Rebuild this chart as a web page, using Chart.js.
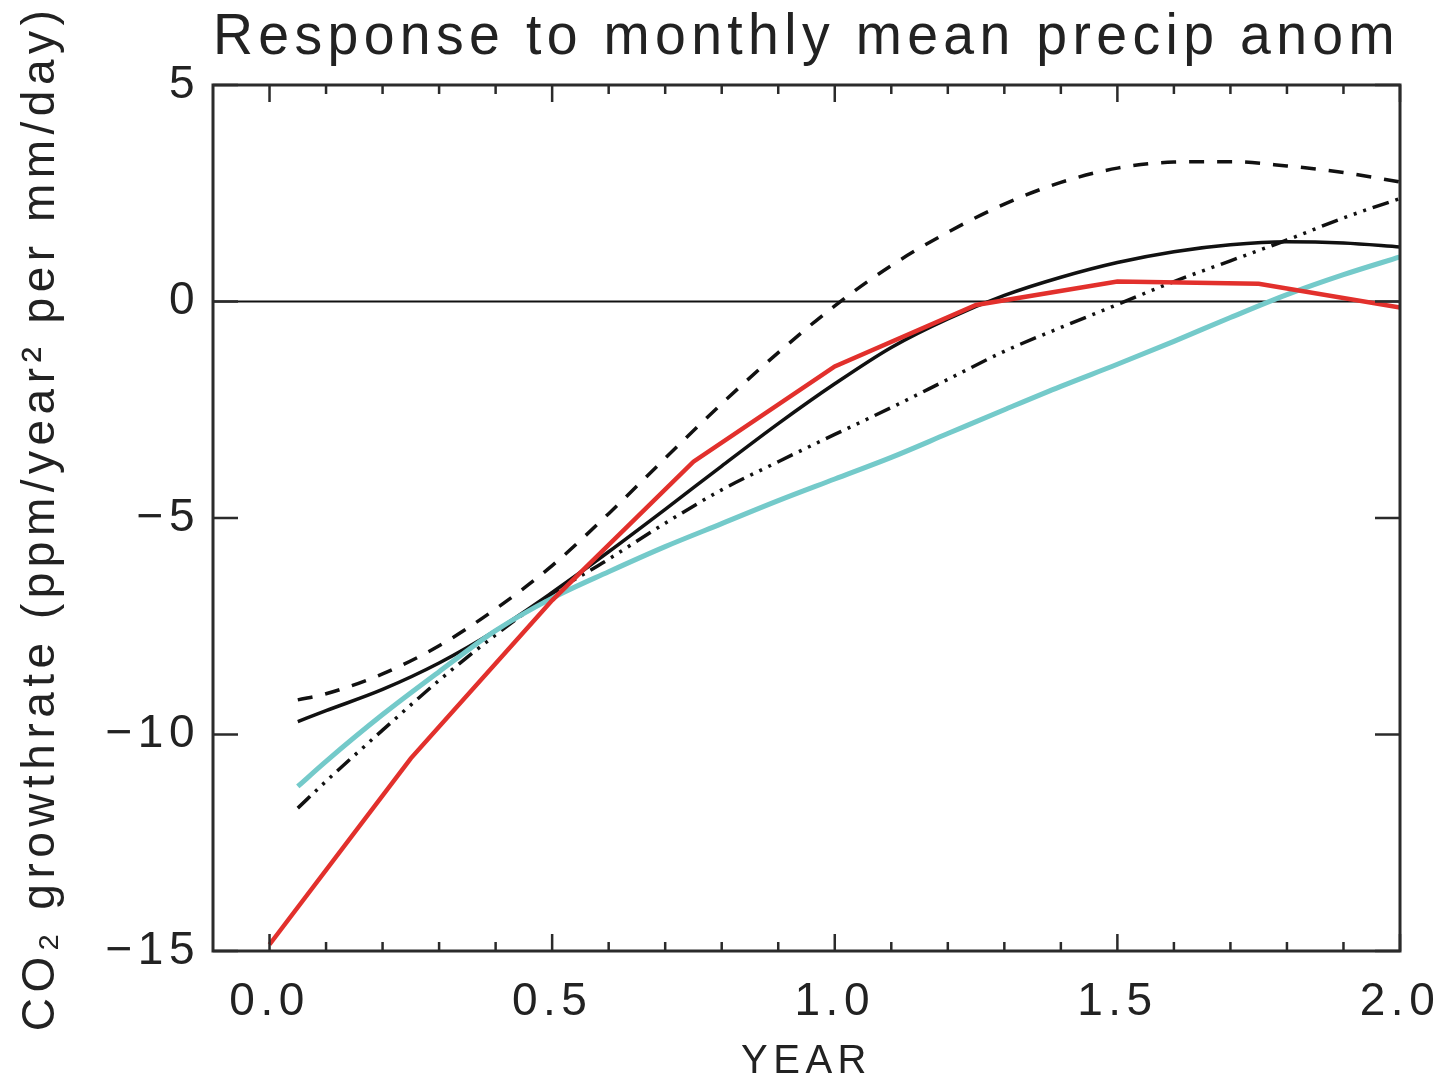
<!DOCTYPE html>
<html lang="en">
<head>
<meta charset="UTF-8">
<title>Response to monthly mean precip anom</title>
<script src="https://cdn.jsdelivr.net/npm/chart.js@4.4.1/dist/chart.umd.min.js"></script>
<style>
  html, body { margin: 0; padding: 0; background: #fff; }
</style>
</head>
<body>
<canvas id="chart" width="1444" height="1088"></canvas>
<script>
// x positions (years) of the smooth curves and of the red quarterly polyline
const years = [0.05, 0.1, 0.2, 0.3, 0.4, 0.5, 0.6, 0.7, 0.8, 0.9, 1.0,
               1.1, 1.2, 1.3, 1.4, 1.5, 1.6, 1.7, 1.8, 1.9, 2.0];
const quarterYears = [0, 0.25, 0.5, 0.75, 1.0, 1.25, 1.5, 1.75, 2.0];

// series values (ppm/year^2 per mm/day)
const solidBlack = [-9.7, -9.45, -8.96, -8.35, -7.6, -6.72, -5.78, -4.8, -3.8, -2.82, -1.9,
                    -1.06, -0.4, 0.14, 0.56, 0.9, 1.15, 1.31, 1.38, 1.35, 1.26];
const dashedBlack = [-9.2, -9.06, -8.6, -7.95, -7.1, -6.1, -4.9, -3.62, -2.36, -1.18, -0.1,
                     0.83, 1.6, 2.25, 2.75, 3.08, 3.22, 3.23, 3.13, 2.98, 2.76];
const dashDotBlack = [-11.7, -11.08, -9.9, -8.75, -7.7, -6.75, -5.95, -5.12, -4.35, -3.7, -3.07,
                      -2.45, -1.8, -1.15, -0.6, -0.07, 0.46, 0.94, 1.42, 1.93, 2.38];
const cyanSeries = [-11.2, -10.62, -9.54, -8.55, -7.6, -6.85, -6.24, -5.66, -5.13, -4.6, -4.1,
                    -3.6, -3.05, -2.5, -1.96, -1.45, -0.92, -0.37, 0.16, 0.62, 1.03];
const redSeries = [-14.85, -10.55, -6.9, -3.7, -1.5, -0.08, 0.46, 0.41, -0.14];

// tick values and labels
const xTickValues = [0, 0.5, 1.0, 1.5, 2.0];
const xTickLabels = ['0.0', '0.5', '1.0', '1.5', '2.0'];
const yTickValues = [-15, -10, -5, 0, 5];
const yTickLabels = ['\u221215', '\u221210', '\u22125', '0', '5'];

const FONT = "'Liberation Sans', Arial, sans-serif";
const INK = '#222';

function pts(xs, ys) {
    return xs.map((x, i) => ({ x: x, y: ys[i] }));
}

// zero line, boxed frame and inward tick marks (IDL style)
const frameTicks = {
    id: 'frameTicks',
    beforeDraw(chart) {
        chart.ctx.letterSpacing = '5.5px';
    },
    beforeDatasetsDraw(chart) {
        const { ctx, chartArea: a, scales: { y } } = chart;
        const y0 = y.getPixelForValue(0);
        ctx.save();
        ctx.strokeStyle = '#111';
        ctx.lineWidth = 2;
        ctx.beginPath();
        ctx.moveTo(a.left, y0);
        ctx.lineTo(a.right, y0);
        ctx.stroke();
        ctx.restore();
    },
    afterDatasetsDraw(chart) {
        const { ctx, chartArea: a, scales: { x, y } } = chart;
        ctx.save();
        ctx.strokeStyle = '#2b2b2b';
        ctx.lineWidth = 2.5;
        ctx.beginPath();
        for (let k = 0; k <= 20; k++) {
            const px = x.getPixelForValue(k / 10);
            const len = k % 5 === 0 ? 17 : 9;
            ctx.moveTo(px, a.bottom); ctx.lineTo(px, a.bottom - len);
            ctx.moveTo(px, a.top); ctx.lineTo(px, a.top + len);
        }
        yTickValues.forEach(v => {
            const py = y.getPixelForValue(v);
            ctx.moveTo(a.left, py); ctx.lineTo(a.left + 25, py);
            ctx.moveTo(a.right, py); ctx.lineTo(a.right - 25, py);
        });
        ctx.stroke();
        ctx.lineWidth = 3;
        ctx.strokeRect(a.left, a.top, a.right - a.left, a.bottom - a.top);
        ctx.restore();
    }
};

const ctx = document.getElementById('chart').getContext('2d');
const chart = new Chart(ctx, {
    type: 'line',
    data: {
        datasets: [
            {
                label: 'red',
                data: pts(quarterYears, redSeries),
                borderColor: 'rgb(226,48,44)',
                borderWidth: 4.5,
                tension: 0
            },
            {
                label: 'cyan',
                data: pts(years, cyanSeries),
                borderColor: 'rgb(116,202,202)',
                borderWidth: 5,
                cubicInterpolationMode: 'monotone'
            },
            {
                label: 'solid',
                data: pts(years, solidBlack),
                borderColor: '#111',
                borderWidth: 3.5,
                cubicInterpolationMode: 'monotone'
            },
            {
                label: 'dash-dot',
                data: pts(years, dashDotBlack),
                borderColor: '#111',
                borderWidth: 3.5,
                borderDash: [17, 7, 3, 7, 3, 7, 3, 7],
                cubicInterpolationMode: 'monotone'
            },
            {
                label: 'dashed',
                data: pts(years, dashedBlack),
                borderColor: '#111',
                borderWidth: 3.5,
                borderDash: [15, 13],
                cubicInterpolationMode: 'monotone'
            }
        ]
    },
    options: {
        responsive: false,
        animation: false,
        devicePixelRatio: 1,
        layout: { padding: { left: 0, right: 44, top: 0, bottom: 0 } },
        elements: { point: { radius: 0 }, line: { fill: false } },
        plugins: {
            legend: { display: false },
            tooltip: { enabled: false },
            title: {
                display: true,
                fullSize: false,
                text: 'Response to monthly mean precip anom',
                color: INK,
                font: { family: FONT, size: 57, weight: 'normal' },
                padding: { top: 4, bottom: 12.6 }
            }
        },
        scales: {
            x: {
                type: 'linear',
                min: -0.1,
                max: 2.0,
                grid: { display: false, drawTicks: false },
                border: { display: false },
                afterBuildTicks: s => { s.ticks = xTickValues.map(v => ({ value: v })); },
                afterFit: s => { s.height = 137; s.paddingLeft = 0; s.paddingRight = 0; },
                ticks: {
                    autoSkip: false,
                    maxRotation: 0,
                    padding: 24,
                    color: INK,
                    font: { family: FONT, size: 46 },
                    callback: (v, i) => xTickLabels[i]
                },
                title: {
                    display: true,
                    text: 'YEAR',
                    color: INK,
                    font: { family: FONT, size: 40 },
                    padding: { top: 0, bottom: 2 }
                }
            },
            y: {
                type: 'linear',
                min: -15,
                max: 5,
                grid: { display: false, drawTicks: false },
                border: { display: false },
                afterBuildTicks: s => { s.ticks = yTickValues.map(v => ({ value: v })); },
                afterFit: s => { s.width = 213; s.paddingTop = 0; s.paddingBottom = 0; },
                ticks: {
                    padding: 13,
                    color: INK,
                    font: { family: FONT, size: 46 },
                    callback: (v, i) => yTickLabels[i]
                },
                title: {
                    display: true,
                    text: 'CO\u2082 growthrate (ppm/year\u00B2 per mm/day)',
                    color: INK,
                    font: { family: FONT, size: 46 },
                    padding: { top: 14, bottom: 0 }
                }
            }
        }
    },
    plugins: [frameTicks]
});
</script>
</body>
</html>
